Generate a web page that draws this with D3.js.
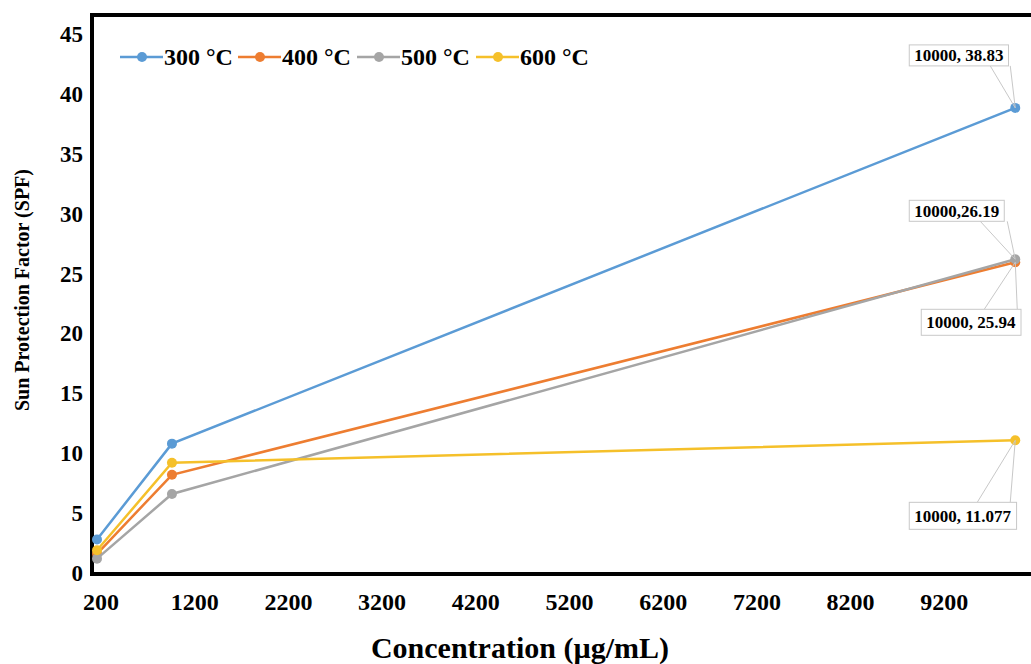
<!DOCTYPE html>
<html>
<head>
<meta charset="utf-8">
<script src="https://cdn.jsdelivr.net/npm/d3@7"></script>
<style>
  body { margin: 0; background: #fff; }
  svg { display: block; font-family: "Liberation Serif", "Times New Roman", serif; font-weight: bold; }
</style>
</head>
<body>
<svg id="chart" width="1031" height="664"></svg>
<script>
// data
const concentrations = [200, 1000, 10000];
const seriesNames = ["300 \u00B0C", "400 \u00B0C", "500 \u00B0C", "600 \u00B0C"];
const seriesColors = ["#5b9bd5", "#ed7d31", "#a5a5a5", "#f5c02a"];
const spf300 = [2.8, 10.8, 38.83];
const spf400 = [1.6, 8.2, 25.94];
const spf500 = [1.2, 6.6, 26.19];
const spf600 = [1.9, 9.2, 11.077];
const xTicks = [200, 1200, 2200, 3200, 4200, 5200, 6200, 7200, 8200, 9200];
const yTicks = [0, 5, 10, 15, 20, 25, 30, 35, 40, 45];
// end-point callouts: series index, text
const calloutSeries = [0, 2, 1, 3];
const calloutText = ["10000, 38.83", "10000,26.19", "10000, 25.94", "10000, 11.077"];

const series = [spf300, spf400, spf500, spf600].map((vals, i) => ({
  name: seriesNames[i],
  color: seriesColors[i],
  values: vals.map((v, j) => ({x: concentrations[j], y: v}))
}));

const svg = d3.select("#chart");
const frameLeft = 92, frameTop = 15, frameBottom = 574;

const x = d3.scaleLinear().domain([200, 10200]).range([97, 1034]);
const y = d3.scaleLinear().domain([0, 45]).range([573, 34]);

// frame (right side falls off the picture)
svg.append("path")
  .attr("d", `M${x.range()[1] + 10},${frameTop} H${frameLeft} V${frameBottom} H${x.range()[1] + 10}`)
  .attr("fill", "none")
  .attr("stroke", "#000")
  .attr("stroke-width", 4);

// y tick labels
svg.append("g").selectAll("text")
  .data(yTicks)
  .join("text")
  .attr("x", 83)
  .attr("y", d => y(d))
  .attr("dy", "0.35em")
  .attr("text-anchor", "end")
  .attr("font-size", 23)
  .text(d => d);

// x tick labels
svg.append("g").selectAll("text")
  .data(xTicks)
  .join("text")
  .attr("x", d => x(d) + 4)
  .attr("y", 602)
  .attr("dy", "0.35em")
  .attr("text-anchor", "middle")
  .attr("font-size", 24)
  .text(d => d);

// axis titles
svg.append("text")
  .attr("x", 520)
  .attr("y", 647)
  .attr("dy", "0.35em")
  .attr("text-anchor", "middle")
  .attr("font-size", 30)
  .text("Concentration (\u00B5g/mL)");

svg.append("text")
  .attr("transform", "translate(22,290) rotate(-90)")
  .attr("dy", "0.35em")
  .attr("text-anchor", "middle")
  .attr("font-size", 20)
  .text("Sun Protection Factor (SPF)");

// lines and markers
const line = d3.line().x(d => x(d.x)).y(d => y(d.y));
const sg = svg.append("g").selectAll("g")
  .data(series)
  .join("g");

sg.append("path")
  .attr("d", d => line(d.values))
  .attr("fill", "none")
  .attr("stroke", d => d.color)
  .attr("stroke-width", 2.5);

sg.selectAll("circle")
  .data(d => d.values.map(v => ({...v, color: d.color})))
  .join("circle")
  .attr("cx", d => x(d.x))
  .attr("cy", d => y(d.y))
  .attr("r", 5)
  .attr("fill", d => d.color);

// callouts: box offset from the point and wedge feet
const calloutLayout = [
  {dx: -106, dy: -63, h: 21, feet: [-25, -5], above: true},
  {dx: -106, dy: -59, h: 21, feet: [-35, -8], above: true},
  {dx: -94, dy: 47, h: 26, feet: [-31, 2], above: false},
  {dx: -106, dy: 62, h: 27, feet: [-38, -5], above: false}
];

const cg = svg.append("g");
calloutSeries.forEach((si, k) => {
  const p = series[si].values[series[si].values.length - 1];
  const px = x(p.x), py = y(p.y);
  const L = calloutLayout[k];
  const g = cg.append("g");
  const bx = px + L.dx, by = py + L.dy;
  const edgeY = L.above ? by + L.h : by;
  g.append("path")
    .attr("d", `M${px + L.feet[0]},${edgeY} L${px},${py} L${px + L.feet[1]},${edgeY}`)
    .attr("fill", "none")
    .attr("stroke", "#c8c8c8")
    .attr("stroke-width", 1);
  const rect = g.append("rect")
    .attr("x", bx)
    .attr("y", by)
    .attr("height", L.h)
    .attr("fill", "#fff")
    .attr("stroke", "#c8c8c8")
    .attr("stroke-width", 1);
  const t = g.append("text")
    .attr("x", bx + 5)
    .attr("y", by + L.h / 2)
    .attr("dy", "0.35em")
    .attr("font-size", 17)
    .text(calloutText[k]);
  rect.attr("width", t.node().getBBox().width + 10);
});

// legend
const legendX = [120, 238, 357, 476];
const lg = svg.append("g").selectAll("g")
  .data(series)
  .join("g")
  .attr("transform", (d, i) => `translate(${legendX[i]},57)`);
lg.append("line")
  .attr("x1", 0).attr("x2", 43)
  .attr("stroke", d => d.color)
  .attr("stroke-width", 2.5);
lg.append("circle")
  .attr("cx", 22)
  .attr("r", 5)
  .attr("fill", d => d.color);
lg.append("text")
  .attr("x", 44)
  .attr("dy", "0.35em")
  .attr("font-size", 24)
  .text(d => d.name);
</script>
</body>
</html>
